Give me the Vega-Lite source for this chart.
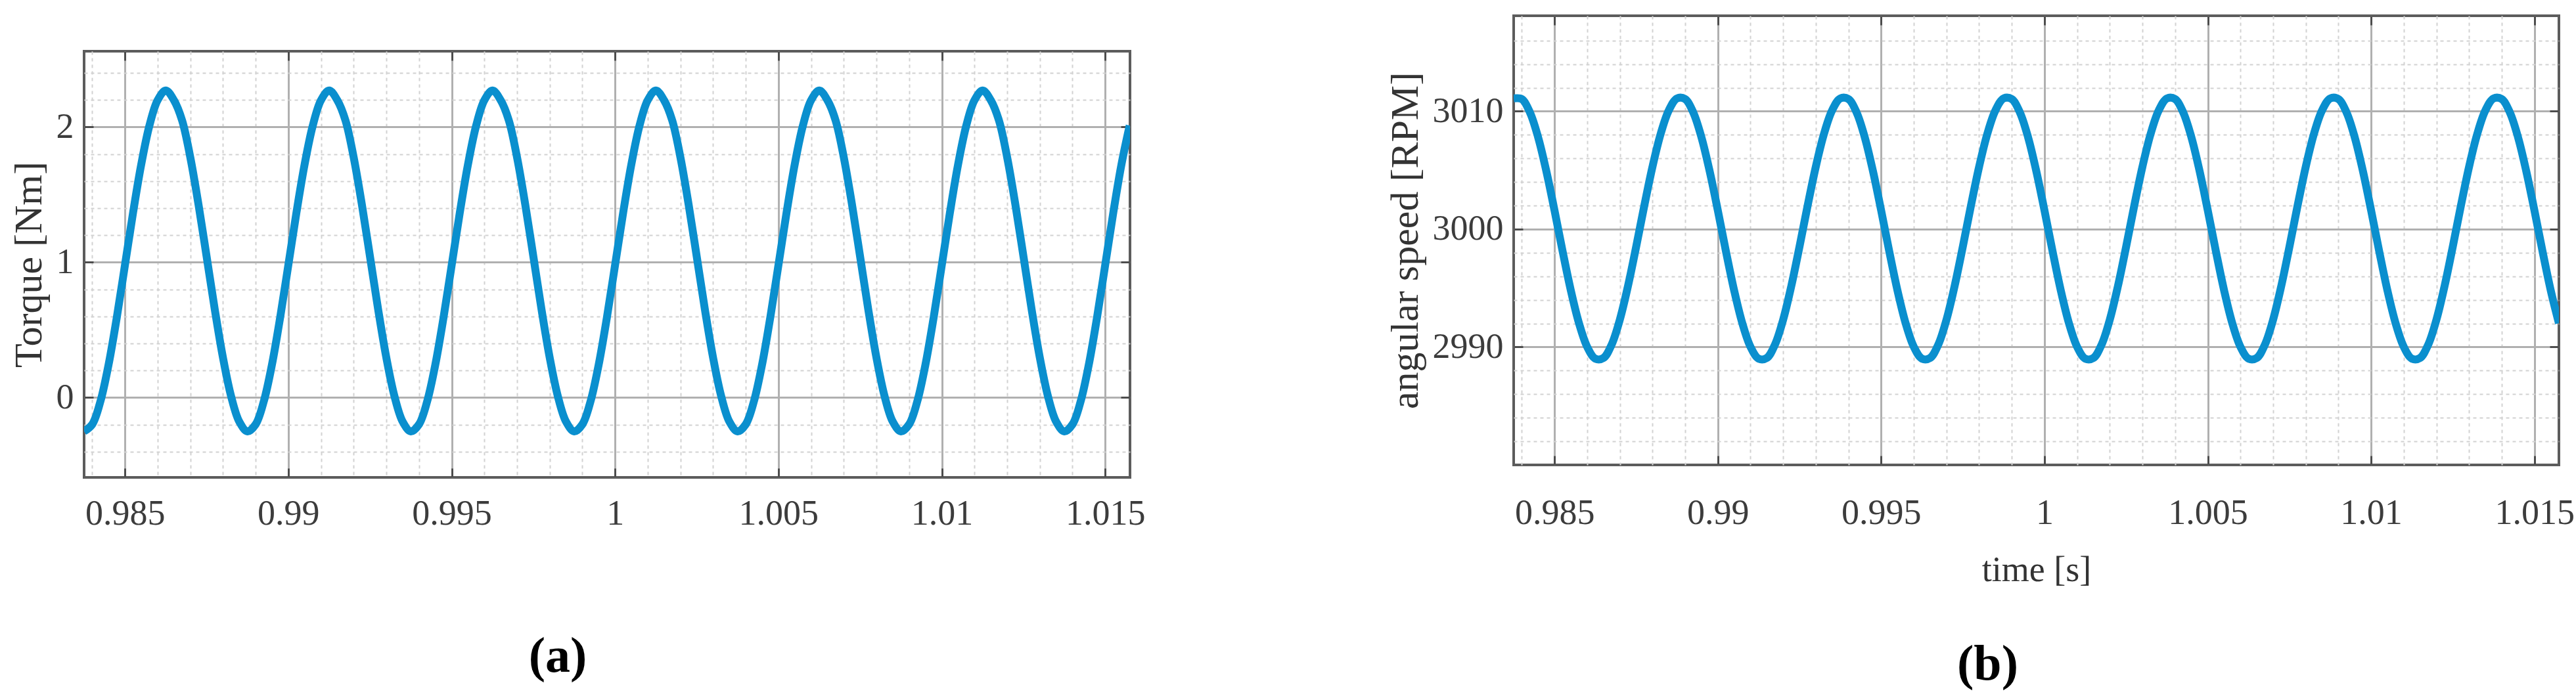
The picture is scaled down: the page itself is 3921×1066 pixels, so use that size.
{
"$schema": "https://vega.github.io/schema/vega-lite/v6.json",
"padding": {"left": 12, "top": 20, "right": 0, "bottom": 0},
"background": "white",
"spacing": 362,
"config": {
 "font": "Liberation Serif",
 "view": {"stroke": "#5c5c5c", "strokeWidth": 4},
 "axis": {"labelFont": "Liberation Serif", "titleFont": "Liberation Serif", "labelColor": "#3c3c3c", "titleColor": "#333333", "titleFontWeight": "normal", "labelFontSize": 54, "titleFontSize": 60}
},
"data": {"values": [
{"time":0.98375,"torque":-0.25,"speed":3011.09},{"time":0.984,"torque":-0.198,"speed":3011.03},{"time":0.98425,"torque":-0.028,"speed":3009.89},{"time":0.9845,"torque":0.244,"speed":3007.78},{"time":0.98475,"torque":0.591,"speed":3004.92},{"time":0.985,"torque":0.978,"speed":3001.59},{"time":0.98525,"torque":1.369,"speed":2998.1},{"time":0.9855,"torque":1.725,"speed":2994.8},{"time":0.98575,"torque":2.011,"speed":2992.02},{"time":0.986,"torque":2.198,"speed":2990.02},{"time":0.98625,"torque":2.27,"speed":2989.01},{"time":0.9865,"torque":2.198,"speed":2989.07},{"time":0.98675,"torque":2.048,"speed":2990.21},{"time":0.987,"torque":1.776,"speed":2992.32},{"time":0.98725,"torque":1.429,"speed":2995.18},{"time":0.9875,"torque":1.042,"speed":2998.51},{"time":0.98775,"torque":0.651,"speed":3002},{"time":0.988,"torque":0.295,"speed":3005.3},{"time":0.98825,"torque":0.009,"speed":3008.08},{"time":0.9885,"torque":-0.178,"speed":3010.08},
{"time":0.98875,"torque":-0.25,"speed":3011.09},{"time":0.989,"torque":-0.198,"speed":3011.03},{"time":0.98925,"torque":-0.028,"speed":3009.89},{"time":0.9895,"torque":0.244,"speed":3007.78},{"time":0.98975,"torque":0.591,"speed":3004.92},{"time":0.99,"torque":0.978,"speed":3001.59},{"time":0.99025,"torque":1.369,"speed":2998.1},{"time":0.9905,"torque":1.725,"speed":2994.8},{"time":0.99075,"torque":2.011,"speed":2992.02},{"time":0.991,"torque":2.198,"speed":2990.02},{"time":0.99125,"torque":2.27,"speed":2989.01},{"time":0.9915,"torque":2.198,"speed":2989.07},{"time":0.99175,"torque":2.048,"speed":2990.21},{"time":0.992,"torque":1.776,"speed":2992.32},{"time":0.99225,"torque":1.429,"speed":2995.18},{"time":0.9925,"torque":1.042,"speed":2998.51},{"time":0.99275,"torque":0.651,"speed":3002},{"time":0.993,"torque":0.295,"speed":3005.3},{"time":0.99325,"torque":0.009,"speed":3008.08},{"time":0.9935,"torque":-0.178,"speed":3010.08},
{"time":0.99375,"torque":-0.25,"speed":3011.09},{"time":0.994,"torque":-0.198,"speed":3011.03},{"time":0.99425,"torque":-0.028,"speed":3009.89},{"time":0.9945,"torque":0.244,"speed":3007.78},{"time":0.99475,"torque":0.591,"speed":3004.92},{"time":0.995,"torque":0.978,"speed":3001.59},{"time":0.99525,"torque":1.369,"speed":2998.1},{"time":0.9955,"torque":1.725,"speed":2994.8},{"time":0.99575,"torque":2.011,"speed":2992.02},{"time":0.996,"torque":2.198,"speed":2990.02},{"time":0.99625,"torque":2.27,"speed":2989.01},{"time":0.9965,"torque":2.198,"speed":2989.07},{"time":0.99675,"torque":2.048,"speed":2990.21},{"time":0.997,"torque":1.776,"speed":2992.32},{"time":0.99725,"torque":1.429,"speed":2995.18},{"time":0.9975,"torque":1.042,"speed":2998.51},{"time":0.99775,"torque":0.651,"speed":3002},{"time":0.998,"torque":0.295,"speed":3005.3},{"time":0.99825,"torque":0.009,"speed":3008.08},{"time":0.9985,"torque":-0.178,"speed":3010.08},
{"time":0.99875,"torque":-0.25,"speed":3011.09},{"time":0.999,"torque":-0.198,"speed":3011.03},{"time":0.99925,"torque":-0.028,"speed":3009.89},{"time":0.9995,"torque":0.244,"speed":3007.78},{"time":0.99975,"torque":0.591,"speed":3004.92},{"time":1,"torque":0.978,"speed":3001.59},{"time":1.00025,"torque":1.369,"speed":2998.1},{"time":1.0005,"torque":1.725,"speed":2994.8},{"time":1.00075,"torque":2.011,"speed":2992.02},{"time":1.001,"torque":2.198,"speed":2990.02},{"time":1.00125,"torque":2.27,"speed":2989.01},{"time":1.0015,"torque":2.198,"speed":2989.07},{"time":1.00175,"torque":2.048,"speed":2990.21},{"time":1.002,"torque":1.776,"speed":2992.32},{"time":1.00225,"torque":1.429,"speed":2995.18},{"time":1.0025,"torque":1.042,"speed":2998.51},{"time":1.00275,"torque":0.651,"speed":3002},{"time":1.003,"torque":0.295,"speed":3005.3},{"time":1.00325,"torque":0.009,"speed":3008.08},{"time":1.0035,"torque":-0.178,"speed":3010.08},
{"time":1.00375,"torque":-0.25,"speed":3011.09},{"time":1.004,"torque":-0.198,"speed":3011.03},{"time":1.00425,"torque":-0.028,"speed":3009.89},{"time":1.0045,"torque":0.244,"speed":3007.78},{"time":1.00475,"torque":0.591,"speed":3004.92},{"time":1.005,"torque":0.978,"speed":3001.59},{"time":1.00525,"torque":1.369,"speed":2998.1},{"time":1.0055,"torque":1.725,"speed":2994.8},{"time":1.00575,"torque":2.011,"speed":2992.02},{"time":1.006,"torque":2.198,"speed":2990.02},{"time":1.00625,"torque":2.27,"speed":2989.01},{"time":1.0065,"torque":2.198,"speed":2989.07},{"time":1.00675,"torque":2.048,"speed":2990.21},{"time":1.007,"torque":1.776,"speed":2992.32},{"time":1.00725,"torque":1.429,"speed":2995.18},{"time":1.0075,"torque":1.042,"speed":2998.51},{"time":1.00775,"torque":0.651,"speed":3002},{"time":1.008,"torque":0.295,"speed":3005.3},{"time":1.00825,"torque":0.009,"speed":3008.08},{"time":1.0085,"torque":-0.178,"speed":3010.08},
{"time":1.00875,"torque":-0.25,"speed":3011.09},{"time":1.009,"torque":-0.198,"speed":3011.03},{"time":1.00925,"torque":-0.028,"speed":3009.89},{"time":1.0095,"torque":0.244,"speed":3007.78},{"time":1.00975,"torque":0.591,"speed":3004.92},{"time":1.01,"torque":0.978,"speed":3001.59},{"time":1.01025,"torque":1.369,"speed":2998.1},{"time":1.0105,"torque":1.725,"speed":2994.8},{"time":1.01075,"torque":2.011,"speed":2992.02},{"time":1.011,"torque":2.198,"speed":2990.02},{"time":1.01125,"torque":2.27,"speed":2989.01},{"time":1.0115,"torque":2.198,"speed":2989.07},{"time":1.01175,"torque":2.048,"speed":2990.21},{"time":1.012,"torque":1.776,"speed":2992.32},{"time":1.01225,"torque":1.429,"speed":2995.18},{"time":1.0125,"torque":1.042,"speed":2998.51},{"time":1.01275,"torque":0.651,"speed":3002},{"time":1.013,"torque":0.295,"speed":3005.3},{"time":1.01325,"torque":0.009,"speed":3008.08},{"time":1.0135,"torque":-0.178,"speed":3010.08},
{"time":1.01375,"torque":-0.25,"speed":3011.09},{"time":1.014,"torque":-0.198,"speed":3011.03},{"time":1.01425,"torque":-0.028,"speed":3009.89},{"time":1.0145,"torque":0.244,"speed":3007.78},{"time":1.01475,"torque":0.591,"speed":3004.92},{"time":1.015,"torque":0.978,"speed":3001.59},{"time":1.01525,"torque":1.369,"speed":2998.1},{"time":1.0155,"torque":1.725,"speed":2994.8},{"time":1.01575,"torque":2.011,"speed":2992.02}
]},
"hconcat": [
 {
  "spacing": 0,
  "vconcat": [
   {
    "width": 1592, "height": 50,
    "view": {"stroke": null},
    "mark": {"type": "point", "opacity": 0},
    "encoding": {}
   },
   {
    "width": 1592, "height": 649,
    "title": {"text": "(a)", "orient": "bottom", "frame": "group", "anchor": "middle", "dx": -75, "offset": 154, "fontSize": 76, "fontWeight": "bold", "color": "#000000", "font": "Liberation Serif"},
    "resolve": {"axis": {"x": "independent", "y": "independent"}},
    "layer": [
     {
      "mark": {"type": "line", "strokeOpacity": 0},
      "encoding": {
       "x": {"field": "time", "type": "quantitative", "scale": {"domain": [0.98375, 1.01576], "nice": false, "zero": false},
        "axis": {"orient": "bottom", "values": [0.984,0.986,0.987,0.988,0.989,0.991,0.992,0.993,0.994,0.996,0.997,0.998,0.999,1.001,1.002,1.003,1.004,1.006,1.007,1.008,1.009,1.011,1.012,1.013,1.014], "grid": true, "gridColor": "#d2d2d2", "gridWidth": 2, "gridDash": [5, 5], "ticks": false, "labels": false, "domain": false, "title": null}},
       "y": {"field": "torque", "type": "quantitative", "scale": {"domain": [-0.59, 2.56], "nice": false, "zero": false},
        "axis": {"orient": "left", "values": [-0.4,-0.2,0.2,0.4,0.6,0.8,1.2,1.4,1.6,1.8,2.2,2.4], "grid": true, "gridColor": "#d2d2d2", "gridWidth": 2, "gridDash": [5, 5], "ticks": false, "labels": false, "domain": false, "title": null}}
      }
     },
     {
      "mark": {"type": "line", "strokeOpacity": 0},
      "encoding": {
       "x": {"field": "time", "type": "quantitative",
        "axis": {"orient": "top", "values": [0.985,0.99,0.995,1,1.005,1.01,1.015], "grid": false, "ticks": true, "tickSize": -14, "tickWidth": 3, "tickColor": "#4d4d4d", "labels": false, "domain": false, "title": null}},
       "y": {"field": "torque", "type": "quantitative",
        "axis": {"orient": "right", "values": [0,1,2], "grid": false, "ticks": true, "tickSize": -14, "tickWidth": 3, "tickColor": "#4d4d4d", "labels": false, "domain": false, "title": null}}
      }
     },
     {
      "mark": {"type": "line", "color": "#0a8fce", "strokeWidth": 12, "interpolate": "catmull-rom", "clip": true},
      "encoding": {
       "x": {"field": "time", "type": "quantitative",
        "axis": {"orient": "bottom", "values": [0.985,0.99,0.995,1,1.005,1.01,1.015], "format": "~g", "grid": true, "gridColor": "#b0b0b0", "gridWidth": 3, "tickSize": -14, "tickWidth": 3, "tickColor": "#4d4d4d", "labelPadding": 42, "domain": false, "title": null}},
       "y": {"field": "torque", "type": "quantitative",
        "axis": {"orient": "left", "values": [0,1,2], "format": "~g", "grid": true, "gridColor": "#b0b0b0", "gridWidth": 3, "tickSize": -14, "tickWidth": 3, "tickColor": "#4d4d4d", "labelPadding": 30, "domain": false, "title": "Torque [Nm]", "titlePadding": 10}}
      }
     }
    ]
   }
  ]
 },
 {
  "width": 1591, "height": 684,
  "title": {"text": "(b)", "orient": "bottom", "frame": "group", "anchor": "middle", "dx": -74, "offset": 80, "fontSize": 76, "fontWeight": "bold", "color": "#000000", "font": "Liberation Serif"},
  "resolve": {"axis": {"x": "independent", "y": "independent"}},
  "layer": [
   {
    "mark": {"type": "line", "strokeOpacity": 0},
    "encoding": {
     "x": {"field": "time", "type": "quantitative", "scale": {"domain": [0.98375, 1.01575], "nice": false, "zero": false},
      "axis": {"orient": "bottom", "values": [0.984,0.986,0.987,0.988,0.989,0.991,0.992,0.993,0.994,0.996,0.997,0.998,0.999,1.001,1.002,1.003,1.004,1.006,1.007,1.008,1.009,1.011,1.012,1.013,1.014], "grid": true, "gridColor": "#d2d2d2", "gridWidth": 2, "gridDash": [5, 5], "ticks": false, "labels": false, "domain": false, "title": null}},
     "y": {"field": "speed", "type": "quantitative", "scale": {"domain": [2980, 3018.1], "nice": false, "zero": false},
      "axis": {"orient": "left", "values": [2982,2984,2986,2988,2992,2994,2996,2998,3002,3004,3006,3008,3012,3014,3016], "grid": true, "gridColor": "#d2d2d2", "gridWidth": 2, "gridDash": [5, 5], "ticks": false, "labels": false, "domain": false, "title": null}}
    }
   },
   {
    "mark": {"type": "line", "strokeOpacity": 0},
    "encoding": {
     "x": {"field": "time", "type": "quantitative",
      "axis": {"orient": "top", "values": [0.985,0.99,0.995,1,1.005,1.01,1.015], "grid": false, "ticks": true, "tickSize": -14, "tickWidth": 3, "tickColor": "#4d4d4d", "labels": false, "domain": false, "title": null}},
     "y": {"field": "speed", "type": "quantitative",
      "axis": {"orient": "right", "values": [2990,3000,3010], "grid": false, "ticks": true, "tickSize": -14, "tickWidth": 3, "tickColor": "#4d4d4d", "labels": false, "domain": false, "title": null}}
    }
   },
   {
    "mark": {"type": "line", "color": "#0a8fce", "strokeWidth": 12, "interpolate": "catmull-rom", "clip": true},
    "encoding": {
     "x": {"field": "time", "type": "quantitative",
      "axis": {"orient": "bottom", "values": [0.985,0.99,0.995,1,1.005,1.01,1.015], "format": "~g", "grid": true, "gridColor": "#b0b0b0", "gridWidth": 3, "tickSize": -14, "tickWidth": 3, "tickColor": "#4d4d4d", "labelPadding": 60, "domain": false, "title": "time [s]", "titleFontSize": 54, "titlePadding": 33}},
     "y": {"field": "speed", "type": "quantitative",
      "axis": {"orient": "left", "values": [2990,3000,3010], "format": "d", "grid": true, "gridColor": "#b0b0b0", "gridWidth": 3, "tickSize": -14, "tickWidth": 3, "tickColor": "#4d4d4d", "labelPadding": 30, "domain": false, "title": "angular speed [RPM]", "titlePadding": 10}}
    }
   }
  ]
 }
]
}
